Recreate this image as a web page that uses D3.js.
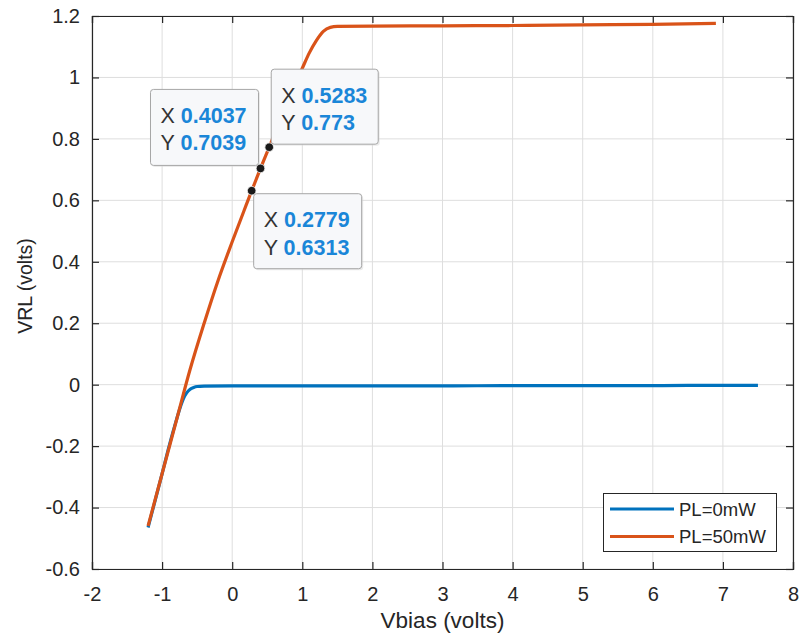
<!DOCTYPE html>
<html>
<head>
<meta charset="utf-8">
<script src="https://cdn.jsdelivr.net/npm/d3@7"></script>
<style>
  html, body { margin: 0; padding: 0; background: #fff; }
  svg { display: block; }
  text { font-family: "Liberation Sans", Arial, Helvetica, sans-serif; }
</style>
</head>
<body>
<svg id="chart" width="800" height="640"></svg>
<script>
// ---- data ----
const xTicks = [-2, -1, 0, 1, 2, 3, 4, 5, 6, 7, 8];
const yTicks = [-0.6, -0.4, -0.2, 0, 0.2, 0.4, 0.6, 0.8, 1, 1.2];
const xTickLabels = ["-2", "-1", "0", "1", "2", "3", "4", "5", "6", "7", "8"];
const yTickLabels = ["-0.6", "-0.4", "-0.2", "0", "0.2", "0.4", "0.6", "0.8", "1", "1.2"];

const seriesNames = ["PL=0mW", "PL=50mW"];
const seriesColors = ["#0072BD", "#D95319"];

const blueX = [-1.2, -1.0, -0.9, -0.8, -0.75, -0.7, -0.65, -0.6, -0.55, -0.5, -0.4, 0, 1, 2, 3, 4, 5, 6, 7, 7.5];
const blueY = [-0.465, -0.29, -0.2, -0.118, -0.08, -0.048, -0.027, -0.015, -0.009, -0.006, -0.005, -0.004, -0.004, -0.004, -0.004, -0.003, -0.003, -0.003, -0.002, -0.002];

const orangeX = [-1.2, -1.0, -0.8, -0.6, -0.4, -0.2, 0, 0.2, 0.2779, 0.4037, 0.5283, 0.7, 0.9, 1.0, 1.1, 1.2, 1.3, 1.4, 1.5, 2, 3, 4, 5, 6, 6.9];
const orangeY = [-0.46, -0.29, -0.12, 0.05, 0.2, 0.34, 0.465, 0.585, 0.6313, 0.7039, 0.773, 0.87, 0.98, 1.03, 1.08, 1.12, 1.15, 1.163, 1.166, 1.167, 1.168, 1.169, 1.171, 1.173, 1.176];

const tipX = [0.4037, 0.5283, 0.2779];
const tipY = [0.7039, 0.773, 0.6313];
const tipLabelsX = ["0.4037", "0.5283", "0.2779"];
const tipLabelsY = ["0.7039", "0.773", "0.6313"];
const tipCorner = ["br", "bl", "tl"]; // which box corner sits on the point

// ---- layout ----
const svg = d3.select("#chart");
const L = 92, R = 793, T = 16, B = 569;
const x = d3.scaleLinear().domain([-2, 8]).range([L, R]);
const y = d3.scaleLinear().domain([-0.6, 1.2]).range([B, T]);

// grid
const grid = svg.append("g");
grid.selectAll("line.gx").data(xTicks).enter().append("line")
  .attr("x1", d => x(d)).attr("x2", d => x(d)).attr("y1", T).attr("y2", B)
  .attr("stroke", "#dedede").attr("stroke-width", 1);
grid.selectAll("line.gy").data(yTicks).enter().append("line")
  .attr("y1", d => y(d)).attr("y2", d => y(d)).attr("x1", L).attr("x2", R)
  .attr("stroke", "#dedede").attr("stroke-width", 1);

// axes
const axisColor = "#262626";
const fs = 20;
const xAxis = d3.axisBottom(x).tickValues(xTicks).tickSize(-7).tickPadding(18)
  .tickFormat((d, i) => xTickLabels[i]);
const yAxis = d3.axisLeft(y).tickValues(yTicks).tickSize(-7).tickPadding(12)
  .tickFormat((d, i) => yTickLabels[i]);
const xTop = d3.axisTop(x).tickValues(xTicks).tickSize(-7).tickFormat("");
const yRight = d3.axisRight(y).tickValues(yTicks).tickSize(-7).tickFormat("");

function styleAxis(g) {
  g.attr("font-size", fs).attr("font-family", "'Liberation Sans', Arial, sans-serif");
  g.selectAll("path").attr("stroke", axisColor).attr("stroke-width", 1.2);
  g.selectAll("line").attr("stroke", axisColor).attr("stroke-width", 1.2);
  g.selectAll("text").attr("fill", axisColor).style("font-size", fs + "px");
}
svg.append("g").attr("transform", `translate(0,${B})`).call(xAxis).call(styleAxis);
svg.append("g").attr("transform", `translate(${L},0)`).call(yAxis).call(styleAxis);
svg.append("g").attr("transform", `translate(0,${T})`).call(xTop).call(styleAxis);
svg.append("g").attr("transform", `translate(${R},0)`).call(yRight).call(styleAxis);
svg.selectAll(".domain").attr("fill", "none");

// axis titles
svg.append("text").attr("x", (L + R) / 2).attr("y", 628)
  .attr("text-anchor", "middle").attr("fill", axisColor).style("font-size", "22.5px")
  .text("Vbias (volts)");
svg.append("text").attr("transform", `translate(32,286) rotate(-90)`)
  .attr("text-anchor", "middle").attr("fill", axisColor).style("font-size", "19.5px")
  .text("VRL (volts)");

// lines
const line = d3.line().x(d => x(d[0])).y(d => y(d[1])).curve(d3.curveMonotoneX);
const blueData = blueX.map((v, i) => [v, blueY[i]]);
const orangeData = orangeX.map((v, i) => [v, orangeY[i]]);
svg.append("path").datum(blueData).attr("d", line).attr("fill", "none")
  .attr("stroke", seriesColors[0]).attr("stroke-width", 3.2).attr("stroke-linejoin", "round");
svg.append("path").datum(orangeData).attr("d", line).attr("fill", "none")
  .attr("stroke", seriesColors[1]).attr("stroke-width", 3.2).attr("stroke-linejoin", "round");

// data tips
const bw = [108, 107, 108], bh = [76, 75, 75];
tipX.forEach((tx, i) => {
  const px = x(tx), py = y(tipY[i]);
  let bx, by;
  if (tipCorner[i] === "br") { bx = px - bw[i] - 2; by = py - bh[i] - 3; }
  else if (tipCorner[i] === "bl") { bx = px + 2; by = py - bh[i] - 3; }
  else { bx = px + 2; by = py + 3; }
  const g = svg.append("g");
  g.append("rect").attr("x", bx + 1.5).attr("y", by + 1.5).attr("width", bw[i]).attr("height", bh[i])
    .attr("rx", 3).attr("fill", "#d8d8d8").attr("opacity", 0.5);
  g.append("rect").attr("x", bx).attr("y", by).attr("width", bw[i]).attr("height", bh[i])
    .attr("rx", 3).attr("fill", "#f7f8fa").attr("stroke", "#a6a6a6").attr("stroke-width", 1);
  const t1 = g.append("text").attr("x", bx + 10).attr("y", by + 33.5).style("font-size", "21.5px");
  t1.append("tspan").attr("fill", "#333").text("X ");
  t1.append("tspan").attr("fill", "#1a86d8").attr("font-weight", "bold").text(tipLabelsX[i]);
  const t2 = g.append("text").attr("x", bx + 10).attr("y", by + 61).style("font-size", "21.5px");
  t2.append("tspan").attr("fill", "#333").text("Y ");
  t2.append("tspan").attr("fill", "#1a86d8").attr("font-weight", "bold").text(tipLabelsY[i]);
});
svg.selectAll("circle.tip").data(tipX).enter().append("circle")
  .attr("cx", d => x(d)).attr("cy", (d, i) => y(tipY[i])).attr("r", 4.3)
  .attr("fill", "#1a1a1a").attr("stroke", "#f0f0f0").attr("stroke-width", 0.8);

// legend
const lg = svg.append("g");
lg.append("rect").attr("x", 603.5).attr("y", 493.5).attr("width", 173).attr("height", 58)
  .attr("fill", "#fff").attr("stroke", axisColor).attr("stroke-width", 1);
seriesNames.forEach((nm, i) => {
  const ly = 509 + i * 27.5;
  lg.append("line").attr("x1", 610).attr("x2", 674).attr("y1", ly).attr("y2", ly)
    .attr("stroke", seriesColors[i]).attr("stroke-width", 3.2);
  lg.append("text").attr("x", 679).attr("y", ly + 6.5).attr("fill", axisColor)
    .style("font-size", "18.5px").text(nm);
});
</script>
</body>
</html>
